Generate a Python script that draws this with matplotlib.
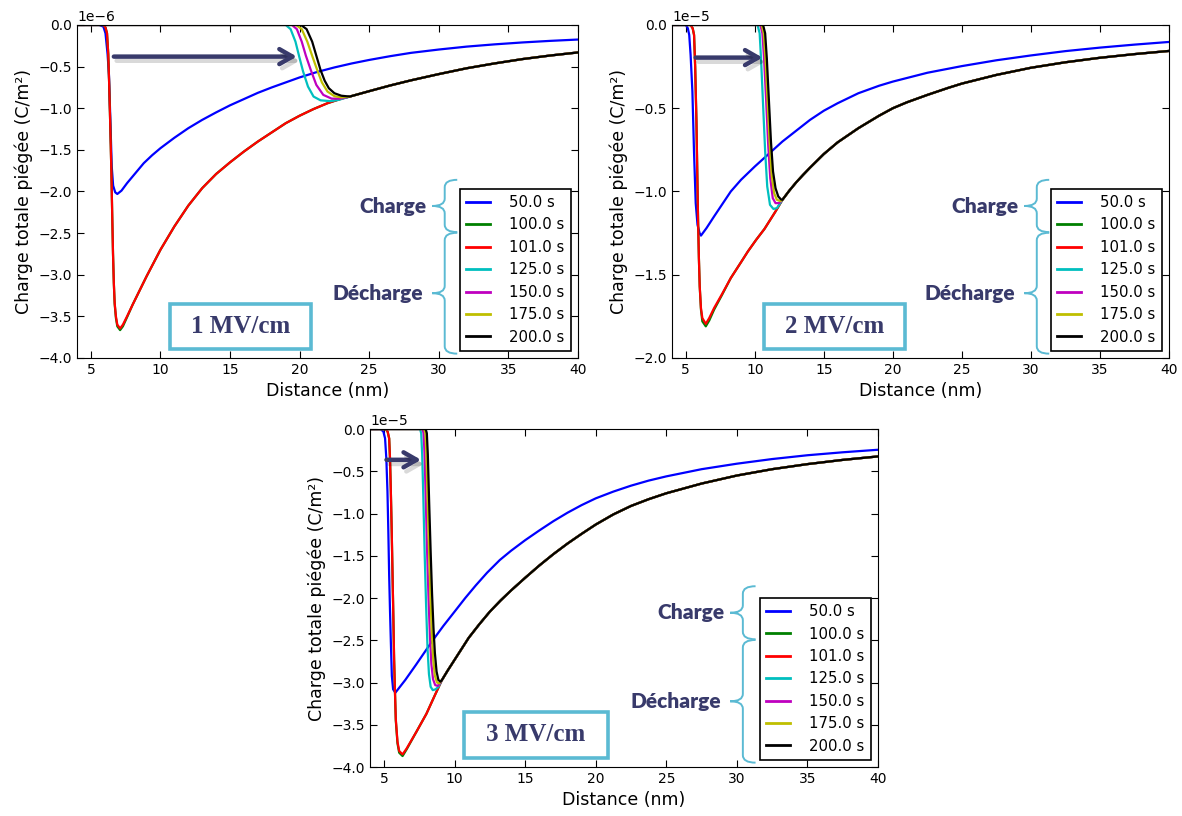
import matplotlib
matplotlib.use('Agg')
import matplotlib.pyplot as plt
import matplotlib.patheffects as pe
from matplotlib.path import Path
from matplotlib.patches import PathPatch, Rectangle
from matplotlib.ticker import MultipleLocator

# ---- data (y in units of the axis multiplier) ----
labels = ['50.0 s', '100.0 s', '101.0 s', '125.0 s', '150.0 s', '175.0 s', '200.0 s']
colors = ['b', 'g', 'r', 'c', 'm', 'y', 'k']
fields = ['1 MV/cm', '2 MV/cm', '3 MV/cm']
scales = [1e-6, 1e-5, 1e-5]
ylims = [-4.0, -2.0, -4.0]

# panel 1 : 1 MV/cm
p1_b_x = [4, 5.6, 5.9, 6.05, 6.2, 6.3, 6.4, 6.5, 6.6, 6.75, 6.9, 7.2, 7.6, 8.2, 8.8, 9.4, 10,
          11, 12, 13, 14, 15, 16, 17, 18, 19, 20, 21.25, 22.5, 23.75, 25, 26.5, 28, 30, 32,
          34, 36, 38, 40]
p1_b_y = [0, 0, -0.02, -0.1, -0.35, -0.6, -1.14, -1.7, -1.93, -2.01, -2.03, -1.99, -1.90, -1.78,
          -1.66, -1.565, -1.48, -1.355, -1.24, -1.14, -1.05, -0.965, -0.89, -0.815, -0.75, -0.69,
          -0.63, -0.565, -0.51, -0.462, -0.42, -0.375, -0.335, -0.295, -0.26, -0.233, -0.21,
          -0.191, -0.175]
p1_r_x = [4, 5.9, 6.05, 6.16, 6.25, 6.32, 6.4, 6.47, 6.53, 6.59, 6.65, 6.71, 6.8, 6.9, 7.1, 7.3,
          7.6, 8, 9, 10, 11, 12, 13, 14, 15, 16, 17, 18, 19, 20, 21, 22, 23]
p1_r_y = [0, 0, -0.03, -0.1, -0.35, -0.74, -1.25, -1.74, -2.25, -2.74, -3.1, -3.34, -3.5, -3.6,
          -3.645, -3.6, -3.5, -3.36, -3.02, -2.70, -2.42, -2.17, -1.96, -1.79, -1.65, -1.52,
          -1.40, -1.29, -1.18, -1.09, -1.01, -0.94, -0.885]
p1_g_y = [0, 0, -0.03, -0.1, -0.35, -0.74, -1.25, -1.74, -2.25, -2.74, -3.1, -3.35, -3.52, -3.62,
          -3.665, -3.62, -3.51, -3.36, -3.02, -2.70, -2.42, -2.17, -1.96, -1.79, -1.65, -1.52,
          -1.40, -1.29, -1.18, -1.09, -1.01, -0.94, -0.885]
p1_tail_x = [23.6, 25, 26.5, 28, 30, 32, 34, 36, 38, 40]
p1_tail_y = [-0.86, -0.795, -0.727, -0.665, -0.59, -0.52, -0.462, -0.41, -0.367, -0.33]
p1_c_x = [4, 19.0, 19.35, 19.7, 20.0, 20.25, 20.6, 21.0, 21.5, 22.2, 22.8]
p1_c_y = [0, 0, -0.05, -0.2, -0.4, -0.56, -0.74, -0.86, -0.905, -0.915, -0.9]
p1_m_x = [4, 19.45, 19.8, 20.15, 20.45, 20.8, 21.2, 21.7, 22.3, 22.9]
p1_m_y = [0, 0, -0.05, -0.2, -0.37, -0.54, -0.72, -0.84, -0.885, -0.885]
p1_y_x = [4, 19.75, 20.15, 20.55, 20.9, 21.26, 21.6, 22.0, 22.5, 23.0]
p1_y_y = [0, 0, -0.05, -0.2, -0.37, -0.54, -0.69, -0.8, -0.855, -0.87]
p1_k_x = [4, 20.1, 20.5, 20.9, 21.2, 21.5, 21.8, 22.1, 22.5, 23.0]
p1_k_y = [0, 0, -0.05, -0.2, -0.37, -0.54, -0.67, -0.76, -0.82, -0.85]

# panel 2 : 2 MV/cm
p2_b_x = [4, 5.0, 5.15, 5.25, 5.35, 5.48, 5.6, 5.72, 5.85, 6.0, 6.1, 6.5, 7.05, 8.26, 9, 10, 11,
          12, 13, 14, 15, 16, 17.5, 19, 20, 22.5, 25, 27.5, 30, 32.5, 35, 37.5, 40]
p2_b_y = [0, 0, -0.02, -0.06, -0.18, -0.4, -0.77, -1.07, -1.2, -1.25, -1.265, -1.22, -1.15, -1.0,
          -0.93, -0.85, -0.775, -0.70, -0.635, -0.57, -0.515, -0.47, -0.41, -0.365, -0.34, -0.287,
          -0.247, -0.212, -0.183, -0.157, -0.136, -0.118, -0.102]
p2_r_x = [4, 5.35, 5.5, 5.6, 5.68, 5.77, 5.83, 5.89, 5.95, 6.01, 6.1, 6.2, 6.45, 6.7, 7.05, 7.6,
          8.26, 9, 9.5, 10.1, 10.7, 11.5]
p2_r_y = [0, 0, -0.02, -0.06, -0.25, -0.57, -0.87, -1.17, -1.4, -1.57, -1.7, -1.76, -1.795, -1.76,
          -1.7, -1.62, -1.52, -1.425, -1.36, -1.29, -1.225, -1.12]
p2_g_y = [0, 0, -0.02, -0.06, -0.25, -0.57, -0.87, -1.17, -1.4, -1.57, -1.71, -1.78, -1.81, -1.775,
          -1.71, -1.625, -1.52, -1.425, -1.36, -1.29, -1.225, -1.12]
p2_tail_x = [12.0, 12.5, 13, 13.5, 14, 15, 16, 17.5, 19, 20, 21, 22.5, 24, 25, 27.5, 30, 32.5,
             35, 37.5, 40]
p2_tail_y = [-1.05, -0.995, -0.945, -0.9, -0.857, -0.775, -0.705, -0.62, -0.545, -0.50, -0.465,
             -0.42, -0.378, -0.352, -0.30, -0.257, -0.224, -0.197, -0.175, -0.156]
p2_c_x = [4, 10.2, 10.35, 10.45, 10.6, 10.75, 10.9, 11.1, 11.35, 11.6]
p2_c_y = [0, 0, -0.05, -0.2, -0.48, -0.76, -0.97, -1.08, -1.105, -1.1]
p2_m_x = [4, 10.4, 10.55, 10.67, 10.82, 10.97, 11.12, 11.3, 11.5, 11.75]
p2_m_y = [0, 0, -0.05, -0.2, -0.45, -0.72, -0.92, -1.04, -1.07, -1.07]
p2_y_x = [4, 10.5, 10.65, 10.77, 10.92, 11.07, 11.22, 11.4, 11.6, 11.85]
p2_y_y = [0, 0, -0.05, -0.2, -0.45, -0.7, -0.9, -1.01, -1.05, -1.058]
p2_k_x = [4, 10.6, 10.75, 10.87, 11.02, 11.17, 11.32, 11.5, 11.7, 11.9]
p2_k_y = [0, 0, -0.05, -0.2, -0.45, -0.7, -0.88, -0.98, -1.03, -1.048]

# panel 3 : 3 MV/cm
p3_b_x = [4, 4.75, 4.95, 5.07, 5.16, 5.24, 5.3, 5.36, 5.42, 5.48, 5.55, 5.64, 5.8, 6.5, 7.26,
          8.45, 9.2, 10, 10.75, 11.5, 12.3, 13.2, 14, 15, 16, 17, 18, 19, 20, 21.25, 22.5, 23.75,
          25, 27.5, 30, 32.5, 35, 37.5, 40]
p3_b_y = [0, 0, -0.03, -0.11, -0.35, -0.74, -1.2, -1.73, -2.15, -2.52, -2.92, -3.08, -3.12, -2.97,
          -2.79, -2.50, -2.33, -2.16, -2.0, -1.85, -1.70, -1.55, -1.44, -1.315, -1.2, -1.09, -0.99,
          -0.9, -0.82, -0.74, -0.67, -0.61, -0.56, -0.475, -0.41, -0.355, -0.31, -0.275, -0.245]
p3_r_x = [4, 5.12, 5.25, 5.36, 5.42, 5.48, 5.54, 5.6, 5.66, 5.71, 5.77, 5.83, 5.95, 6.07, 6.31,
          6.6, 7.3, 8.0, 8.6, 8.85]
p3_r_y = [0, 0, -0.03, -0.11, -0.35, -0.74, -1.2, -1.73, -2.25, -2.72, -3.1, -3.43, -3.70, -3.81,
          -3.85, -3.78, -3.58, -3.37, -3.15, -3.06]
p3_g_y = [0, 0, -0.03, -0.11, -0.35, -0.74, -1.2, -1.73, -2.25, -2.72, -3.1, -3.45, -3.72, -3.83,
          -3.87, -3.79, -3.58, -3.37, -3.15, -3.06]
p3_tail_x = [9.1, 9.5, 10, 10.5, 11, 11.75, 12.5, 13.25, 14, 15, 16, 17, 18, 19, 20, 21.25,
             22.5, 23.75, 25, 27.5, 30, 32.5, 35, 37.5, 40]
p3_tail_y = [-2.97, -2.86, -2.73, -2.60, -2.47, -2.31, -2.16, -2.03, -1.91, -1.76, -1.615, -1.48,
             -1.355, -1.24, -1.13, -1.01, -0.91, -0.83, -0.76, -0.645, -0.55, -0.475, -0.415,
             -0.365, -0.324]
p3_c_x = [4, 7.55, 7.63, 7.7, 7.78, 7.88, 7.98, 8.08, 8.18, 8.3, 8.45, 8.65, 8.85]
p3_c_y = [0, 0, -0.05, -0.3, -0.8, -1.5, -2.1, -2.6, -2.9, -3.05, -3.09, -3.08, -3.05]
p3_m_x = [4, 7.72, 7.8, 7.87, 7.95, 8.05, 8.15, 8.25, 8.35, 8.47, 8.62, 8.8, 8.95]
p3_m_y = [0, 0, -0.05, -0.3, -0.8, -1.45, -2.0, -2.45, -2.78, -2.96, -3.03, -3.04, -3.01]
p3_y_x = [4, 7.85, 7.93, 8.0, 8.08, 8.18, 8.28, 8.38, 8.48, 8.6, 8.75, 8.9, 9.0]
p3_y_y = [0, 0, -0.05, -0.3, -0.8, -1.4, -1.95, -2.4, -2.72, -2.92, -3.0, -3.01, -2.99]
p3_k_x = [4, 7.95, 8.03, 8.1, 8.2, 8.3, 8.4, 8.5, 8.6, 8.72, 8.85, 9.0]
p3_k_y = [0, 0, -0.05, -0.3, -0.9, -1.45, -1.95, -2.35, -2.65, -2.87, -2.97, -2.99]

# arrows (start x, end x, y) in data units
arrows = [(6.65, 19.8, -0.38), (5.72, 10.56, -0.196), (5.17, 7.62, -0.364)]

NAVY = '#383a6b'
LBLUE = '#5bbad3'


def panel_curves(bx, by, rx, ry, gy, tx, ty, cx, cy, mx, my, yx, yy, kx, ky):
    # 50 s, 100 s, 101 s, 125 s, 150 s, 175 s, 200 s
    return [
        (bx, by),
        (rx + tx, gy + ty),
        (rx + tx, ry + ty),
        (cx + tx, cy + ty),
        (mx + tx, my + ty),
        (yx + tx, yy + ty),
        (kx + tx, ky + ty),
    ]


panels = [
    panel_curves(p1_b_x, p1_b_y, p1_r_x, p1_r_y, p1_g_y, p1_tail_x, p1_tail_y,
                 p1_c_x, p1_c_y, p1_m_x, p1_m_y, p1_y_x, p1_y_y, p1_k_x, p1_k_y),
    panel_curves(p2_b_x, p2_b_y, p2_r_x, p2_r_y, p2_g_y, p2_tail_x, p2_tail_y,
                 p2_c_x, p2_c_y, p2_m_x, p2_m_y, p2_y_x, p2_y_y, p2_k_x, p2_k_y),
    panel_curves(p3_b_x, p3_b_y, p3_r_x, p3_r_y, p3_g_y, p3_tail_x, p3_tail_y,
                 p3_c_x, p3_c_y, p3_m_x, p3_m_y, p3_y_x, p3_y_y, p3_k_x, p3_k_y),
]


def brace(ax, x_tip, x_end, y_bot, y_top, r=0.022):
    xs = (x_tip + x_end) / 2
    ym = (y_bot + y_top) / 2
    verts = [(x_end, y_top), (xs, y_top), (xs, y_top - r),
             (xs, ym + r), (xs, ym), (x_tip, ym),
             (xs, ym), (xs, ym - r),
             (xs, y_bot + r), (xs, y_bot), (x_end, y_bot)]
    codes = [Path.MOVETO, Path.CURVE3, Path.CURVE3,
             Path.LINETO, Path.CURVE3, Path.CURVE3,
             Path.CURVE3, Path.CURVE3,
             Path.LINETO, Path.CURVE3, Path.CURVE3]
    ax.add_patch(PathPatch(Path(verts, codes), transform=ax.transAxes, fill=False,
                           edgecolor=LBLUE, lw=1.4, zorder=6, clip_on=False))


fig = plt.figure(figsize=(11.82, 8.16), dpi=100)
positions = [[0.0651, 0.5613, 0.4239, 0.4081],
             [0.5685, 0.5613, 0.4205, 0.4081],
             [0.3130, 0.0600, 0.4298, 0.4142]]

for i, pos in enumerate(positions):
    ax = fig.add_axes(pos)
    sc = scales[i]
    for (xs, ys), col, lab in zip(panels[i], colors, labels):
        ax.plot(xs, [v * sc for v in ys], color=col, lw=1.6, label=lab)
    ax.set_xlim(4, 40)
    ax.set_ylim(ylims[i] * sc, 0)
    ax.set_xticks(range(5, 41, 5))
    ax.yaxis.set_major_locator(MultipleLocator(0.5 * sc))
    ax.tick_params(direction='in', top=True, right=True, length=5, labelsize=10)
    ax.yaxis.get_offset_text().set_fontsize(10)
    ax.set_xlabel('Distance (nm)', fontsize=12.5, labelpad=4)
    ax.set_ylabel('Charge totale piégée (C/m²)', fontsize=12.5)

    leg = ax.legend(loc='lower right', fontsize=10.7, handlelength=1.6, handletextpad=1.3,
                    labelspacing=0.5, borderaxespad=0.5, fancybox=False, framealpha=1)
    leg.get_frame().set_edgecolor('black')
    leg.get_frame().set_linewidth(1.2)
    for h in leg.get_lines():
        h.set_linewidth(2.0)

    # field box
    ax.add_patch(Rectangle((0.185, 0.027), 0.283, 0.136, transform=ax.transAxes,
                           facecolor='white', edgecolor=LBLUE, lw=2.6, zorder=7))
    ax.text(0.3265, 0.095, fields[i], transform=ax.transAxes, ha='center', va='center',
            family='Liberation Serif', weight='bold', fontsize=18, color=NAVY, zorder=8)

    # charge / decharge braces
    brace(ax, 0.709, 0.759, 0.378, 0.535)
    brace(ax, 0.709, 0.759, 0.013, 0.376)
    ax.text(0.697, 0.456, 'Charge', transform=ax.transAxes, ha='right', va='center',
            family='Lato', weight='heavy', fontsize=15, color=NAVY, zorder=8)
    ax.text(0.691, 0.193, 'Décharge', transform=ax.transAxes, ha='right', va='center',
            family='Lato', weight='heavy', fontsize=15, color=NAVY, zorder=8)

    # shift arrow
    x0, x1, ya = arrows[i]
    ann = ax.annotate('', xy=(x1, ya * sc), xytext=(x0, ya * sc),
                      arrowprops=dict(arrowstyle='->, head_length=0.47, head_width=0.27',
                                      lw=3.2, color=NAVY, shrinkA=0, shrinkB=0,
                                      mutation_scale=20))
    ann.arrow_patch.set_path_effects([pe.SimpleLineShadow(offset=(2, -3), shadow_color='k',
                                                          alpha=0.15), pe.Normal()])
    ann.set_zorder(9)

fig.savefig('out.png', dpi=100, facecolor='white')
